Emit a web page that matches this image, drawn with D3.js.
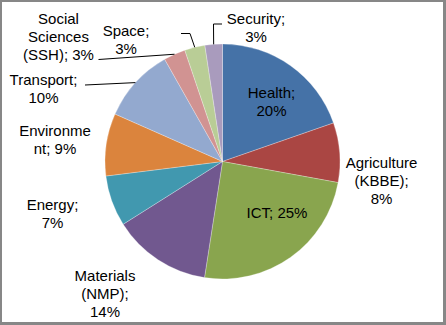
<!DOCTYPE html>
<html><head><meta charset="utf-8">
<script src="https://cdn.jsdelivr.net/npm/d3@7"></script>
<style>html,body{margin:0;padding:0;background:#fff}svg{display:block}</style>
</head><body>
<script>
// ---- data ----
const categories = ["Health", "Agriculture (KBBE)", "ICT", "Materials (NMP)", "Energy", "Environment", "Transport", "Social Sciences (SSH)", "Space", "Security"];
const values = [19.7, 8.2, 24.6, 13.6, 7.0, 8.6, 10.2, 3.0, 2.8, 2.4];
const percentLabels = ["20%", "8%", "25%", "14%", "7%", "9%", "10%", "3%", "3%", "3%"];
const labelLines = [
  ["Health;", "20%"],
  ["Agriculture", "(KBBE);", "8%"],
  ["ICT; 25%"],
  ["Materials", "(NMP);", "14%"],
  ["Energy;", "7%"],
  ["Environme", "nt; 9%"],
  ["Transport;", "10%"],
  ["Social", "Sciences", "(SSH); 3%"],
  ["Space;", "3%"],
  ["Security;", "3%"]
];
const colors = ["#4572A7", "#AA4643", "#89A54E", "#71588F", "#4198AF", "#DB843D", "#93A9CF", "#D19392", "#B9CD96", "#A99BBD"];

// ---- layout (label centers: x, first line center y) ----
const labelPos = [
  [271.5, 92], [381.5, 162], [277, 212.5], [105, 275], [52.5, 204],
  [55, 130.5], [43.5, 79.5], [58.5, 18.5], [126, 30], [256, 18.5]
];
// leader line extra points (after the slice edge point), null = none
const leaderPts = [
  null, null, null, null, null, null,
  [[85, 85]],
  [[98.5, 59.5]],
  [[190, 33.5], [181, 33.5]],
  [[213.5, 24], [222, 24]]
];

const W = 446, H = 325;
const cx = 222.5, cy = 161.5, R = 117.5;
const lineH = 18;

const svg = d3.select("body").append("svg").attr("width", W).attr("height", H);
svg.append("rect").attr("width", W).attr("height", H).attr("fill", "#878787");
svg.append("rect").attr("x", 2).attr("y", 2).attr("width", W - 5).attr("height", H - 5).attr("fill", "#fff");

const pie = d3.pie().sort(null).value(d => d)(values);
const arc = d3.arc().innerRadius(0).outerRadius(R);
const g = svg.append("g").attr("transform", `translate(${cx},${cy})`);

g.selectAll("path").data(pie).join("path")
  .attr("d", arc)
  .attr("fill", (d, i) => colors[i])
  .attr("stroke", "rgba(255,255,255,0.45)")
  .attr("stroke-width", 0.6);

// leader lines
const edgeArc = d3.arc().innerRadius(R).outerRadius(R);
pie.forEach((d, i) => {
  if (!leaderPts[i]) return;
  const [ex, ey] = edgeArc.centroid(d);
  const pts = [[cx + ex, cy + ey]].concat(leaderPts[i]);
  svg.append("path")
    .attr("d", d3.line()(pts))
    .attr("fill", "none")
    .attr("stroke", "#000")
    .attr("stroke-width", 1);
});

// labels
const lab = svg.append("g")
  .attr("font-family", "'Liberation Sans', Arial, sans-serif")
  .attr("font-size", 15)
  .attr("fill", "#000")
  .attr("text-anchor", "middle");
labelLines.forEach((lines, i) => {
  const [lx, ly] = labelPos[i];
  const t = lab.append("text").attr("x", lx).attr("y", ly + 5.5);
  lines.forEach((s, j) => {
    t.append("tspan").attr("x", lx).attr("y", ly + 5.5 + j * lineH).text(s);
  });
});
</script>
</body></html>
